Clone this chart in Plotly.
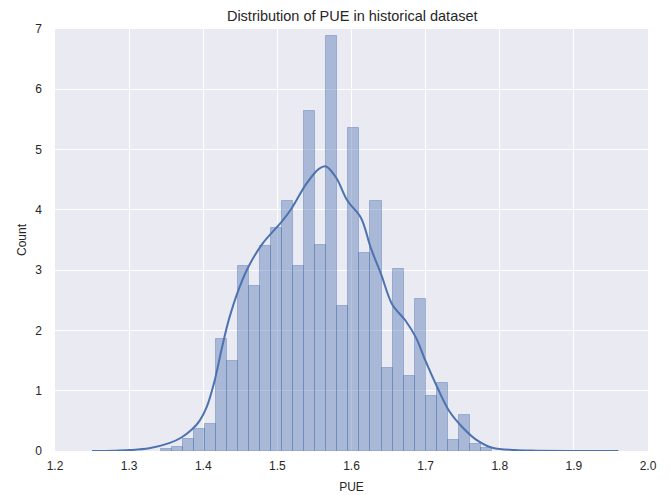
import numpy as np
import plotly.graph_objects as go

# histogram (density)
bin_start = 1.3429
bin_width = 0.01488
densities = [0.03, 0.07, 0.20, 0.36, 0.44, 1.85, 1.49, 3.07, 2.74, 3.40,
             3.70, 4.15, 3.07, 5.64, 3.41, 6.88, 2.40, 5.36, 3.29, 4.15,
             1.38, 3.02, 1.24, 2.52, 0.91, 1.13, 0.18, 0.59, 0.12, 0.05]

# kde curve
kde_x = [1.25, 1.28, 1.30, 1.327, 1.354, 1.37, 1.385, 1.395, 1.405, 1.415,
         1.425, 1.435, 1.449, 1.462, 1.48, 1.507, 1.52, 1.539, 1.556, 1.5655,
         1.579, 1.5946, 1.6127, 1.626, 1.64, 1.655, 1.673, 1.687, 1.70, 1.716,
         1.732, 1.75, 1.768, 1.79, 1.82, 1.85, 1.90, 1.96]
kde_y = [0.0, 0.005, 0.015, 0.045, 0.13, 0.22, 0.36, 0.50, 0.74, 1.15,
         1.70, 2.20, 2.72, 3.08, 3.44, 3.82, 4.04, 4.43, 4.68, 4.72,
         4.54, 4.15, 3.87, 3.37, 2.93, 2.43, 2.16, 1.88, 1.49, 1.05,
         0.66, 0.39, 0.19, 0.055, 0.015, 0.005, 0.0, 0.0]

centers = bin_start + bin_width * (np.arange(len(densities)) + 0.5)

fig = go.Figure()
fig.add_trace(go.Bar(
    x=centers, y=densities, width=bin_width,
    marker=dict(color="rgba(76,114,176,0.42)",
                line=dict(color="rgba(76,114,176,0.4)", width=1)),
    showlegend=False, hoverinfo="skip"))
fig.add_trace(go.Scatter(
    x=kde_x, y=kde_y, mode="lines",
    line=dict(color="#4C72B0", width=2, shape="spline", smoothing=1.0),
    showlegend=False))

# page body has an 8px margin, so the figure is a bit smaller than the window
font = dict(family="Liberation Sans, Arial, sans-serif", color="#262626", size=12)
fig.update_layout(
    width=662, height=487,
    margin=dict(l=47, r=22, t=21, b=44),
    paper_bgcolor="white", plot_bgcolor="#EAEAF2",
    font=font, bargap=0,
    title=dict(text="Distribution of PUE in historical dataset", x=0.52, xanchor="center",
               y=0.984, yanchor="middle", font=dict(size=14.5, color="#262626")),
    xaxis=dict(range=[1.2, 2.0], dtick=0.1, tickformat=".1f", showgrid=True,
               gridcolor="white", gridwidth=1, zeroline=False, showline=False,
               ticks="", ticklabelstandoff=6, automargin=False,
               title=dict(text="PUE", standoff=10, font=dict(size=12))),
    yaxis=dict(range=[0, 7], dtick=1, showgrid=True, gridcolor="white",
               gridwidth=1, zeroline=False, showline=False, ticks="",
               ticklabelstandoff=12, automargin=False,
               title=dict(text="Count", standoff=6, font=dict(size=12))),
)
fig.write_html("out.html")
